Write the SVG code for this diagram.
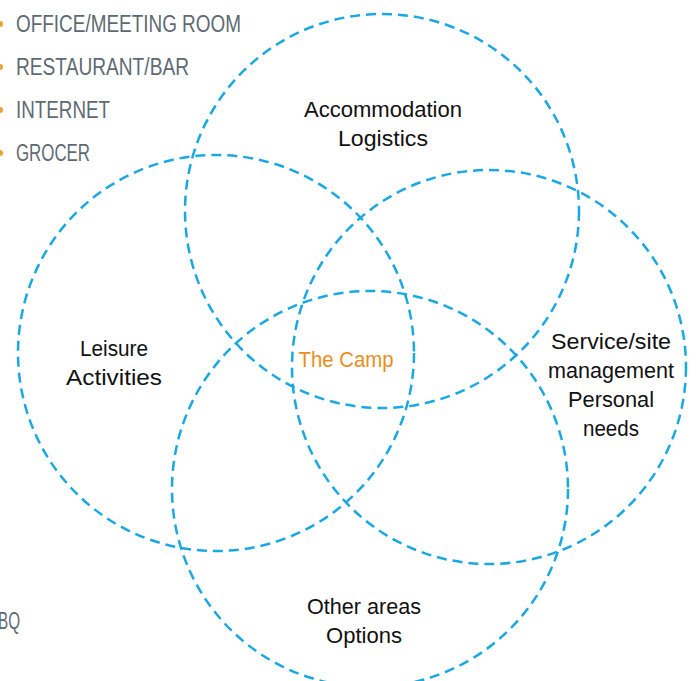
<svg xmlns="http://www.w3.org/2000/svg" width="696" height="681" viewBox="0 0 696 681">
<style>
.c{fill:none;stroke:#1aa8e2;stroke-width:2.5;stroke-dasharray:10 6}
.l{font-family:"Liberation Sans",Arial,sans-serif;font-size:23px;fill:#5e6a72}
.t{font-family:"Liberation Sans",Arial,sans-serif;font-size:22px;fill:#111;text-anchor:middle}
.o{font-family:"Liberation Sans",Arial,sans-serif;font-size:22px;fill:#e88e1c;text-anchor:middle}
.b{fill:#f0a030}
</style>
<rect width="696" height="681" fill="#fff"/>
<g id="list">
<circle class="b" cx="0" cy="24" r="3"/>
<circle class="b" cx="0" cy="67" r="3"/>
<circle class="b" cx="0" cy="110" r="3"/>
<circle class="b" cx="0" cy="153" r="3"/>
<text class="l" x="16" y="32" textLength="225" lengthAdjust="spacingAndGlyphs">OFFICE/MEETING ROOM</text>
<text class="l" x="16" y="75" textLength="173" lengthAdjust="spacingAndGlyphs">RESTAURANT/BAR</text>
<text class="l" x="16" y="118" textLength="94" lengthAdjust="spacingAndGlyphs">INTERNET</text>
<text class="l" x="16" y="161" textLength="74" lengthAdjust="spacingAndGlyphs">GROCER</text>
<text class="l" x="-2" y="629" textLength="22" lengthAdjust="spacingAndGlyphs">BQ</text>
</g>
<g id="connectors"></g>
<g id="accommodation">
<circle class="c" cx="382" cy="211" r="197"/>
<text class="t" x="383" y="117" textLength="158" lengthAdjust="spacingAndGlyphs">Accommodation</text>
<text class="t" x="383" y="146" textLength="90" lengthAdjust="spacingAndGlyphs">Logistics</text>
</g>
<g id="leisure">
<circle class="c" cx="216" cy="353" r="198"/>
<text class="t" x="114" y="356" textLength="68" lengthAdjust="spacingAndGlyphs">Leisure</text>
<text class="t" x="114" y="385" textLength="96" lengthAdjust="spacingAndGlyphs">Activities</text>
</g>
<g id="service">
<circle class="c" cx="489" cy="367" r="197"/>
<text class="t" x="611" y="349" textLength="120" lengthAdjust="spacingAndGlyphs">Service/site</text>
<text class="t" x="611" y="378" textLength="126" lengthAdjust="spacingAndGlyphs">management</text>
<text class="t" x="611" y="407" textLength="86" lengthAdjust="spacingAndGlyphs">Personal</text>
<text class="t" x="611" y="436" textLength="56" lengthAdjust="spacingAndGlyphs">needs</text>
</g>
<g id="other">
<circle class="c" cx="370" cy="489" r="198"/>
<text class="t" x="364" y="614" textLength="114" lengthAdjust="spacingAndGlyphs">Other areas</text>
<text class="t" x="364" y="643" textLength="76" lengthAdjust="spacingAndGlyphs">Options</text>
</g>
<g id="camp">
<text class="o" x="346" y="367" textLength="95" lengthAdjust="spacingAndGlyphs">The Camp</text>
</g>
</svg>
